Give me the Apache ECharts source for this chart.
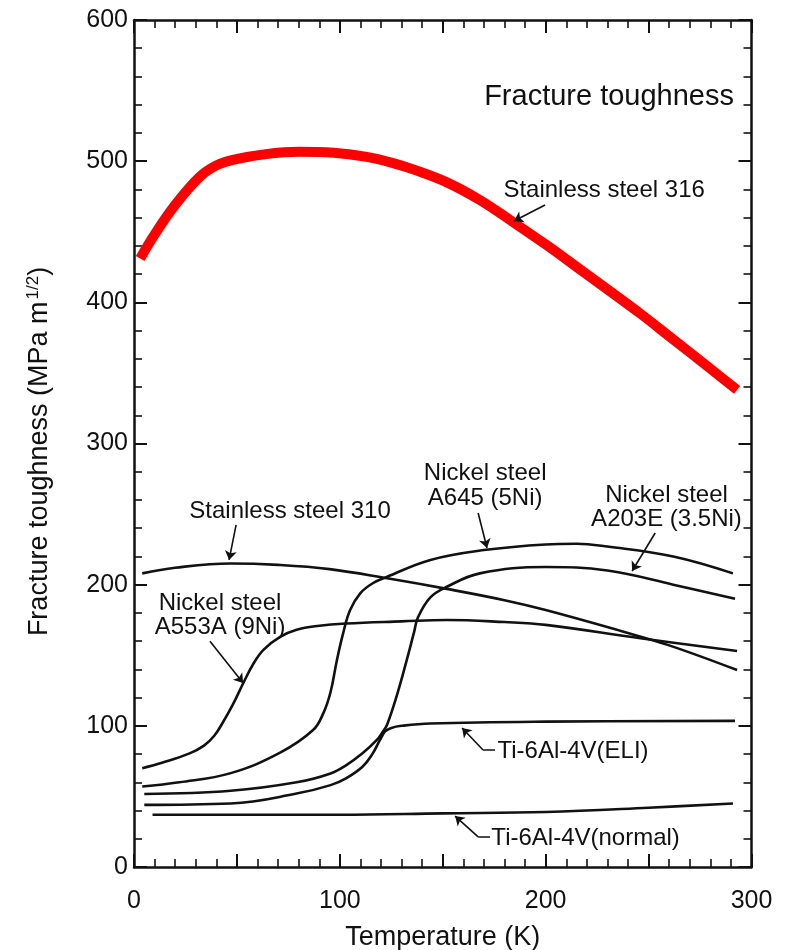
<!DOCTYPE html>
<html>
<head>
<meta charset="utf-8">
<title>Fracture toughness vs temperature</title>
<script src="https://cdn.jsdelivr.net/npm/echarts@6/dist/echarts.min.js"></script>
<style>
  html, body { margin: 0; padding: 0; background: #ffffff; }
  #chart { width: 785px; height: 950px; }
</style>
</head>
<body>
<div id="chart"></div>
<script>
// Tick labels shown on the axes
const temperatureLabels = [0, 100, 200, 300];
const toughnessLabels = [0, 100, 200, 300, 400, 500, 600];

// Fracture toughness (MPa m^1/2) against temperature (K), one list per alloy
const ss316 = [[3, 431], [10, 448], [20, 469], [32, 489], [40, 497], [48, 501], [64, 505], [80, 506.7],
  [97, 506], [113, 503], [125, 499], [136, 494], [152, 485], [168, 472.5], [184, 457], [200, 441],
  [217, 423], [233, 406], [246, 392], [260, 376], [280, 353], [293, 338]];

const ss310 = [[4, 208], [20, 212], [47, 215], [70, 214], [95, 211], [123, 204.5], [152, 197],
  [180, 189], [200, 182], [237, 167], [260, 157], [293, 139.5]];

const a553a = [[4, 70], [14, 74], [27, 80.5], [34, 86], [39, 93], [43, 102], [48, 115], [53, 130], [58, 144],
  [63, 154], [71, 163], [79, 168], [89, 170.7], [103, 172.5], [130, 174], [152, 175], [180, 173.5],
  [200, 171.5], [246, 162], [293, 153]];

const a645 = [[4, 57], [22, 60], [47, 66.5], [71, 81], [87, 97], [92, 109], [95.5, 124], [98.5, 146],
  [101.5, 165], [105, 182], [110, 194], [116, 201], [123, 205.6], [144, 217.5], [170, 224.5],
  [200, 228.5], [215, 229], [230, 227], [262, 220], [291, 208]];

const a203e = [[5, 51.7], [47, 54], [79, 60], [95.5, 66.3], [103, 72], [111, 80.5], [118, 90],
  [120.5, 95], [123, 101], [128, 123], [132.5, 146.5], [136, 166], [138, 177], [144, 191],
  [152, 198.5], [168, 208], [200, 212.5], [230, 210], [262, 200], [292, 190]];

const tiEli = [[5, 44], [47, 45], [79, 52], [95.5, 58], [103, 62.8], [111, 71], [116, 80.5],
  [119.5, 90], [122, 96], [125, 98.5], [130, 100], [144, 101.7], [200, 103], [292, 103.5]];

const tiNormal = [[9, 37], [100, 37], [150, 38], [200, 39], [250, 42], [291, 45]];

// Text of the annotations
const seriesNames = ['Stainless steel 316', 'Stainless steel 310', 'Nickel steel\nA553A (9Ni)',
  'Nickel steel\nA645 (5Ni)', 'Nickel steel\nA203E (3.5Ni)', 'Ti-6Al-4V(ELI)', 'Ti-6Al-4V(normal)'];
const panelTitle = 'Fracture toughness';

const FONT = '"Liberation Sans", Arial, Helvetica, sans-serif';
const INK = '#111111';

// Label anchors and leader lines, in data coordinates (K, MPa m^1/2)
const notes = [
  { text: panelTitle, at: [230.8, 545.5], size: 29, lh: 30 },
  { text: seriesNames[0], at: [228.4, 479], size: 24, lh: 24 },
  { text: seriesNames[1], at: [75.8, 252], size: 24, lh: 24 },
  { text: seriesNames[2], at: [41.8, 178.5], size: 24, lh: 24 },
  { text: seriesNames[3], at: [170.6, 270.2], size: 24, lh: 25 },
  { text: seriesNames[4], at: [258.7, 255], size: 24, lh: 24 },
  { text: seriesNames[5], at: [213.3, 82.2], size: 24, lh: 24 },
  { text: seriesNames[6], at: [219.4, 20.5], size: 24, lh: 24 }
];
const arrows = [
  [[199.7, 469], [184.6, 457.6]],
  [[49.6, 242.3], [46.2, 217.5]],
  [[36.9, 160], [53, 130.3]],
  [[167.2, 250.8], [171.5, 226]],
  [[253.2, 236.6], [242, 209.7]],
  [[169.6, 82.9], [159.4, 98.5]],
  [[167.2, 21.3], [156, 36.1]]
];
const leaders = [
  [[175.4, 82.9], [169.6, 82.9]],
  [[173, 21.3], [167.2, 21.3]]
];

function curve(name, data, color, width, z) {
  return {
    type: 'line', name, data,
    xAxisIndex: 0, yAxisIndex: 0,
    smooth: 0.4,
    symbol: 'none', silent: true, z: z || 3,
    lineStyle: { color, width, cap: 'butt', join: 'round' }
  };
}

function frameAxis(pos, min, max, interval, minorSplit) {
  return {
    type: 'value', position: pos, min, max, interval,
    axisLine: { show: true, onZero: false, lineStyle: { color: INK, width: 2.5 } },
    axisTick: { show: true, inside: true, length: 13, lineStyle: { color: INK, width: 2 } },
    minorTick: { show: true, splitNumber: minorSplit, length: 8, lineStyle: { color: INK, width: 1.6 } },
    splitLine: { show: false },
    minorSplitLine: { show: false },
    axisLabel: { show: false }
  };
}

const xBottom = frameAxis('bottom', 0, 300, 50, 5);
xBottom.axisLabel = {
  show: true, margin: 22, fontSize: 25, color: INK, fontFamily: FONT,
  formatter: v => temperatureLabels.includes(v) ? String(v) : ''
};
xBottom.name = 'Temperature (K)';
xBottom.nameLocation = 'middle';
xBottom.nameGap = 57;
xBottom.nameTextStyle = { fontSize: 27, color: INK, fontFamily: FONT };
const xTop = frameAxis('top', 0, 300, 50, 5);

const yLeft = frameAxis('left', 0, 600, 100, 5);
yLeft.axisLabel = {
  show: true, margin: 6, fontSize: 25, color: INK, fontFamily: FONT,
  padding: [4, 0, 0, 0],
  formatter: v => toughnessLabels.includes(v) ? String(v) : ''
};
yLeft.name = 'Fracture toughness (MPa m{sup|1/2})';
yLeft.nameLocation = 'middle';
yLeft.nameRotate = 90;
yLeft.nameGap = 80;
yLeft.nameTextStyle = {
  fontSize: 27, color: INK, fontFamily: FONT, padding: [0, 16, 0, 0],
  rich: { sup: { fontSize: 17, color: INK, fontFamily: FONT, verticalAlign: 'top', padding: [0, 0, 12, 2] } }
};
const yRight = frameAxis('right', 0, 600, 100, 5);

const option = {
  backgroundColor: '#ffffff',
  animation: false,
  grid: { left: 134, right: 33.5, top: 20, bottom: 83, containLabel: false, outerBoundsMode: 'none' },
  xAxis: [xBottom, xTop],
  yAxis: [yLeft, yRight],
  series: [
    curve('ss310', ss310, INK, 2.6),
    curve('a553a', a553a, INK, 2.6),
    curve('a645', a645, INK, 2.6),
    curve('a203e', a203e, INK, 2.6),
    curve('tiEli', tiEli, INK, 2.6),
    curve('tiNormal', tiNormal, INK, 2.6),
    curve('ss316', ss316, '#ff0000', 10, 5),
    {
      type: 'lines', coordinateSystem: 'cartesian2d', xAxisIndex: 0, yAxisIndex: 0,
      symbol: ['none', 'arrow'], symbolSize: [0, 9], silent: true, z: 6,
      lineStyle: { color: INK, width: 1.6, opacity: 1 },
      data: arrows.map(c => ({ coords: c }))
    },
    {
      type: 'lines', coordinateSystem: 'cartesian2d', xAxisIndex: 0, yAxisIndex: 0,
      symbol: ['none', 'none'], silent: true, z: 6,
      lineStyle: { color: INK, width: 1.6, opacity: 1 },
      data: leaders.map(c => ({ coords: c }))
    },
    {
      type: 'scatter', xAxisIndex: 0, yAxisIndex: 0, symbolSize: 0, silent: true, z: 7,
      itemStyle: { opacity: 1 },
      label: { show: true, position: 'inside', color: INK, opacity: 1, fontFamily: FONT },
      data: notes.map(n => ({
        value: n.at,
        label: { formatter: n.text, fontSize: n.size, lineHeight: n.lh, align: 'center' }
      }))
    }
  ]
};

const chart = echarts.init(document.getElementById('chart'), null, { renderer: 'canvas' });
chart.setOption(option);
</script>
</body>
</html>
